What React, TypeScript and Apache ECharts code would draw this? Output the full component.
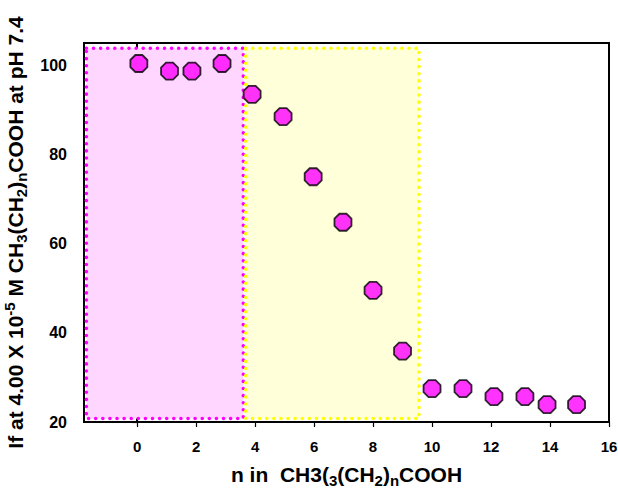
import React, { useEffect, useRef } from "react";
import * as echarts from "echarts";

const nValues = [0.06, 1.1, 1.86, 2.88, 3.9, 4.95, 5.97, 6.98, 8.0, 9.0, 10.0, 11.05, 12.1, 13.15, 13.9, 14.9];
const ifValues = [100.4, 98.7, 98.7, 100.4, 93.5, 88.5, 75, 64.8, 49.5, 35.9, 27.5, 27.5, 25.7, 25.7, 23.9, 23.9];
const xTicks = [0, 2, 4, 6, 8, 10, 12, 14, 16];
const yTicks = [20, 40, 60, 80, 100];
const pinkZone = [-1.72, 3.6, 20.8, 103.8];
const yellowZone = [3.68, 9.56, 20.8, 103.8];

const FONT = "'Liberation Sans', Arial, sans-serif";
const octagon =
  "path://M-0.4142,-1 L0.4142,-1 L1,-0.4142 L1,0.4142 L0.4142,1 L-0.4142,1 L-1,0.4142 L-1,-0.4142 Z";

export default function App() {
  const ref = useRef<HTMLDivElement>(null);
  useEffect(() => {
    if (!ref.current) return;
    const chart = echarts.init(ref.current, null, { renderer: "svg" });
    const nameRich = {
      t: { fontSize: 21, fontWeight: "bold", fontFamily: FONT, color: "#000" },
      sub: { fontSize: 15, fontWeight: "bold", fontFamily: FONT, color: "#000", padding: [12, 0, 0, 0] },
      sup: { fontSize: 15, fontWeight: "bold", fontFamily: FONT, color: "#000", padding: [0, 0, 12, 0] },
    };
    const data = nValues.map((x, i) => [x, ifValues[i]]);
    chart.setOption({
      animation: false,
      backgroundColor: "#fff",
      grid: {
        left: 84,
        top: 43,
        width: 525,
        height: 379,
        outerBoundsMode: "none",
        containLabel: false,
        show: true,
        borderColor: "#000",
        borderWidth: 2,
        backgroundColor: "transparent",
      },
      xAxis: {
        type: "value",
        min: -1.8,
        max: 16,
        splitLine: { show: false },
        axisLine: { lineStyle: { color: "#000", width: 2 } },
        axisTick: { show: true, length: 5, customValues: xTicks, lineStyle: { color: "#000", width: 1.2 } },
        axisLabel: {
          customValues: xTicks,
          margin: 17,
          color: "#000",
          fontSize: 15,
          fontWeight: "bold",
          fontFamily: FONT,
        },
        name: "{t|n in  CH3(}{sub|3}{t|(CH}{sub|2}{t|)}{sub|n}{t|COOH}",
        nameLocation: "middle",
        nameGap: 39,
        nameTextStyle: { rich: nameRich },
      },
      yAxis: {
        type: "value",
        min: 20,
        max: 105,
        splitLine: { show: false },
        axisLine: { lineStyle: { color: "#000", width: 2 } },
        axisTick: { show: true, length: 5, customValues: yTicks, lineStyle: { color: "#000", width: 1.2 } },
        axisLabel: {
          customValues: yTicks,
          margin: 17,
          color: "#000",
          fontSize: 16,
          fontWeight: "bold",
          fontFamily: FONT,
        },
        name:
          "{t|If at 4.00 X 10}{sup|-5}{t| M CH}{sub|3}{t|(CH}{sub|2}{t|)}{sub|n}{t|COOH at pH 7.4}",
        nameLocation: "middle",
        nameRotate: 90,
        nameGap: 47,
        nameTextStyle: { rich: nameRich },
      },
      series: [
        {
          type: "scatter",
          data,
          symbol: octagon,
          symbolSize: 17,
          itemStyle: { color: "#FF00FF", borderColor: "#000", borderWidth: 1.8 },
          z: 5,
          markArea: {
            silent: true,
            data: [
              [
                {
                  coord: [pinkZone[0], pinkZone[3]],
                  itemStyle: {
                    color: "#FFD6FF",
                    borderColor: "#FF00FF",
                    borderWidth: 3.5,
                    borderType: [0.1, 7],
                    borderCap: "round",
                  },
                },
                { coord: [pinkZone[1], pinkZone[2]] },
              ],
              [
                {
                  coord: [yellowZone[0], yellowZone[3]],
                  itemStyle: {
                    color: "#FFFFD9",
                    borderColor: "#FFFF00",
                    borderWidth: 3.5,
                    borderType: [0.1, 7],
                    borderCap: "round",
                  },
                },
                { coord: [yellowZone[1], yellowZone[2]] },
              ],
            ],
          },
        },
      ],
    });
    return () => chart.dispose();
  }, []);
  return (
    <div
      ref={ref}
      style={{ position: "absolute", left: 0, top: 0, width: 618, height: 492 }}
    />
  );
}
